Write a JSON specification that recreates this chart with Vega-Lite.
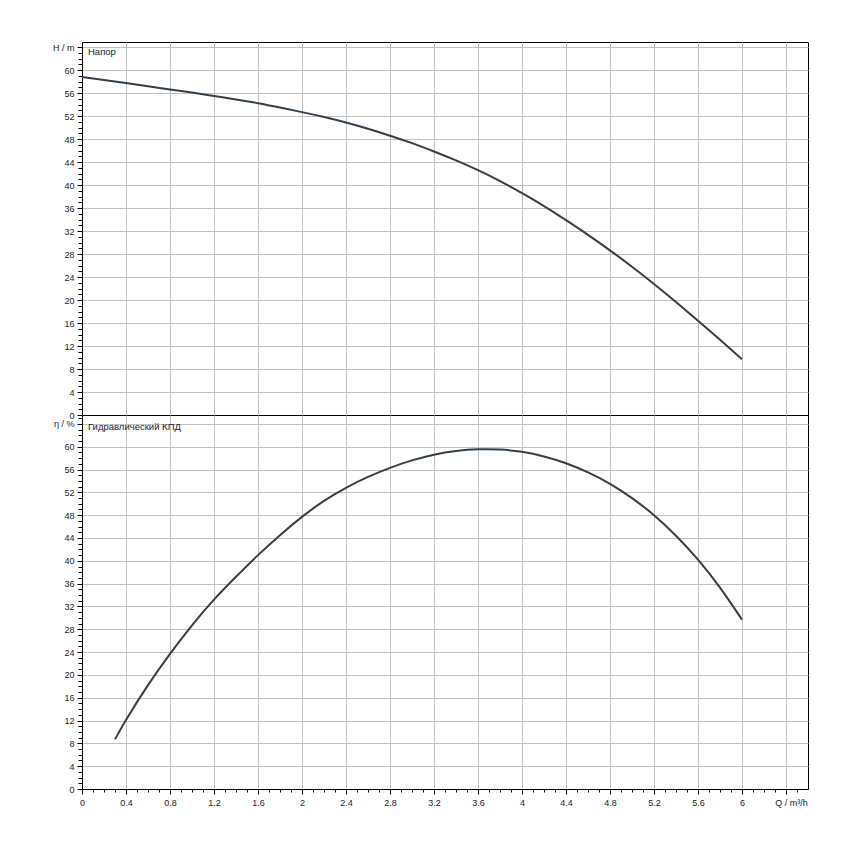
{
  "$schema": "https://vega.github.io/schema/vega-lite/v6.json",
  "autosize": {"type": "pad"},
  "padding": {"left": 52, "top": 41, "right": 0, "bottom": 0},
  "background": "white",
  "spacing": 0,
  "bounds": "flush",
  "config": {
    "view": {"stroke": "black", "strokeWidth": 1},
    "axis": {
      "domainColor": "black",
      "tickColor": "black",
      "gridColor": "#c0c0c0",
      "gridWidth": 1,
      "labelFont": "Liberation Sans",
      "labelFontSize": 9,
      "labelColor": "#1a1a2e",
      "labelOverlap": false,
      "labelFlush": false,
      "labelBound": false,
      "tickCount": 1000,
      "title": null
    }
  },
  "datasets": {
    "head": [
      {"Q": 0, "H": 58.8}, {"Q": 0.2, "H": 58.3}, {"Q": 0.4, "H": 57.75}, {"Q": 0.6, "H": 57.2},
      {"Q": 0.8, "H": 56.65}, {"Q": 1.0, "H": 56.1}, {"Q": 1.2, "H": 55.5}, {"Q": 1.4, "H": 54.9},
      {"Q": 1.6, "H": 54.25}, {"Q": 1.8, "H": 53.5}, {"Q": 2.0, "H": 52.7}, {"Q": 2.2, "H": 51.85},
      {"Q": 2.4, "H": 50.9}, {"Q": 2.6, "H": 49.8}, {"Q": 2.8, "H": 48.6}, {"Q": 3.0, "H": 47.3},
      {"Q": 3.2, "H": 45.85}, {"Q": 3.4, "H": 44.3}, {"Q": 3.6, "H": 42.6}, {"Q": 3.8, "H": 40.7},
      {"Q": 4.0, "H": 38.6}, {"Q": 4.2, "H": 36.35}, {"Q": 4.4, "H": 33.9}, {"Q": 4.6, "H": 31.35},
      {"Q": 4.8, "H": 28.65}, {"Q": 5.0, "H": 25.8}, {"Q": 5.2, "H": 22.8}, {"Q": 5.4, "H": 19.65},
      {"Q": 5.6, "H": 16.4}, {"Q": 5.8, "H": 13.1}, {"Q": 6.0, "H": 9.7}
    ],
    "eff": [
      {"Q": 0.3, "E": 8.7}, {"Q": 0.4, "E": 12.1}, {"Q": 0.6, "E": 18.2}, {"Q": 0.8, "E": 23.7},
      {"Q": 1.0, "E": 28.7}, {"Q": 1.2, "E": 33.2}, {"Q": 1.4, "E": 37.2}, {"Q": 1.6, "E": 41.0},
      {"Q": 1.8, "E": 44.5}, {"Q": 2.0, "E": 47.7}, {"Q": 2.2, "E": 50.5}, {"Q": 2.4, "E": 52.8},
      {"Q": 2.6, "E": 54.7}, {"Q": 2.8, "E": 56.3}, {"Q": 3.0, "E": 57.6}, {"Q": 3.2, "E": 58.6},
      {"Q": 3.4, "E": 59.25}, {"Q": 3.6, "E": 59.55}, {"Q": 3.8, "E": 59.5}, {"Q": 4.0, "E": 59.1},
      {"Q": 4.2, "E": 58.3}, {"Q": 4.4, "E": 57.1}, {"Q": 4.6, "E": 55.5}, {"Q": 4.8, "E": 53.5},
      {"Q": 5.0, "E": 51.0}, {"Q": 5.2, "E": 48.0}, {"Q": 5.4, "E": 44.4}, {"Q": 5.6, "E": 40.2},
      {"Q": 5.8, "E": 35.3}, {"Q": 6.0, "E": 29.7}
    ],
    "labels": [
      {"panel": "top", "t": "Напор", "Q": 0, "V": 64},
      {"panel": "bottom", "t": "Гидравлический КПД", "Q": 0, "V": 64}
    ]
  },
  "vconcat": [
    {
      "width": 726,
      "height": 373,
      "layer": [
        {
          "data": {"name": "head"},
          "mark": {"type": "line", "color": "#363f48", "strokeWidth": 2, "interpolate": "natural"},
          "encoding": {
            "x": {
              "field": "Q", "type": "quantitative",
              "scale": {"domain": [0, 6.6], "nice": false, "zero": false},
              "axis": {
                "values": [0.4, 0.8, 1.2, 1.6, 2, 2.4, 2.8, 3.2, 3.6, 4, 4.4, 4.8, 5.2, 5.6, 6, 6.4],
                "labels": false, "ticks": false, "domain": false, "grid": true
              }
            },
            "y": {
              "field": "H", "type": "quantitative",
              "scale": {"domain": [0, 64.9], "nice": false},
              "axis": {
                "values": [0,1,2,3,4,5,6,7,8,9,10,11,12,13,14,15,16,17,18,19,20,21,22,23,24,25,26,27,28,29,30,31,32,33,34,35,36,37,38,39,40,41,42,43,44,45,46,47,48,49,50,51,52,53,54,55,56,57,58,59,60,61,62,63,64],
                "format": "d",
                "grid": true,
                "gridOpacity": {"condition": {"test": "datum.value % 4 == 0 && datum.value > 0", "value": 1}, "value": 0},
                "tickSize": {"condition": {"test": "datum.value % 4 == 0", "value": 5}, "value": 4},
                "labelPadding": 3,
                "labelExpr": "datum.value % 4 == 0 ? (datum.value == 64 ? 'H / m' : datum.label) : ''"
              }
            }
          }
        },
        {
          "data": {"name": "labels"},
          "transform": [{"filter": "datum.panel == 'top'"}],
          "mark": {"type": "text", "align": "left", "baseline": "middle", "dx": 6, "dy": 5, "font": "Liberation Sans", "fontSize": 9.5, "color": "#1a1a2e"},
          "encoding": {
            "x": {"field": "Q", "type": "quantitative"},
            "y": {"field": "V", "type": "quantitative"},
            "text": {"field": "t"}
          }
        }
      ]
    },
    {
      "width": 726,
      "height": 374,
      "layer": [
        {
          "data": {"name": "eff"},
          "mark": {"type": "line", "color": "#363f48", "strokeWidth": 2, "interpolate": "natural"},
          "encoding": {
            "x": {
              "field": "Q", "type": "quantitative",
              "scale": {"domain": [0, 6.6], "nice": false, "zero": false},
              "axis": {
                "values": [0,0.1,0.2,0.3,0.4,0.5,0.6,0.7,0.8,0.9,1,1.1,1.2,1.3,1.4,1.5,1.6,1.7,1.8,1.9,2,2.1,2.2,2.3,2.4,2.5,2.6,2.7,2.8,2.9,3,3.1,3.2,3.3,3.4,3.5,3.6,3.7,3.8,3.9,4,4.1,4.2,4.3,4.4,4.5,4.6,4.7,4.8,4.9,5,5.1,5.2,5.3,5.4,5.5,5.6,5.7,5.8,5.9,6,6.1,6.2,6.3,6.4,6.5],
                "format": "~g",
                "grid": true,
                "gridOpacity": {"condition": {"test": "abs(datum.value*2.5 - round(datum.value*2.5)) < 0.001 && datum.value > 0", "value": 1}, "value": 0},
                "tickSize": {"condition": {"test": "abs(datum.value*2.5 - round(datum.value*2.5)) < 0.001", "value": 5}, "value": 3},
                "labelPadding": 4,
                "labelOffset": {"condition": {"test": "abs(datum.value - 6.4) < 0.001", "value": 5}, "value": 0},
                "labelExpr": "abs(datum.value*2.5 - round(datum.value*2.5)) < 0.001 ? (abs(datum.value - 6.4) < 0.001 ? 'Q / m³/h' : datum.label) : ''"
              }
            },
            "y": {
              "field": "E", "type": "quantitative",
              "scale": {"domain": [0, 65.56], "nice": false},
              "axis": {
                "values": [0,1,2,3,4,5,6,7,8,9,10,11,12,13,14,15,16,17,18,19,20,21,22,23,24,25,26,27,28,29,30,31,32,33,34,35,36,37,38,39,40,41,42,43,44,45,46,47,48,49,50,51,52,53,54,55,56,57,58,59,60,61,62,63,64,65],
                "format": "d",
                "grid": true,
                "gridOpacity": {"condition": {"test": "datum.value % 4 == 0 && datum.value > 0", "value": 1}, "value": 0},
                "tickSize": {"condition": {"test": "datum.value % 4 == 0", "value": 5}, "value": 4},
                "labelPadding": 3,
                "labelExpr": "datum.value % 4 == 0 ? (datum.value == 64 ? 'η / %' : datum.label) : ''"
              }
            }
          }
        },
        {
          "data": {"name": "labels"},
          "transform": [{"filter": "datum.panel == 'bottom'"}],
          "mark": {"type": "text", "align": "left", "baseline": "middle", "dx": 6, "dy": 3, "font": "Liberation Sans", "fontSize": 9.5, "color": "#1a1a2e"},
          "encoding": {
            "x": {"field": "Q", "type": "quantitative"},
            "y": {"field": "V", "type": "quantitative"},
            "text": {"field": "t"}
          }
        }
      ]
    }
  ]
}
